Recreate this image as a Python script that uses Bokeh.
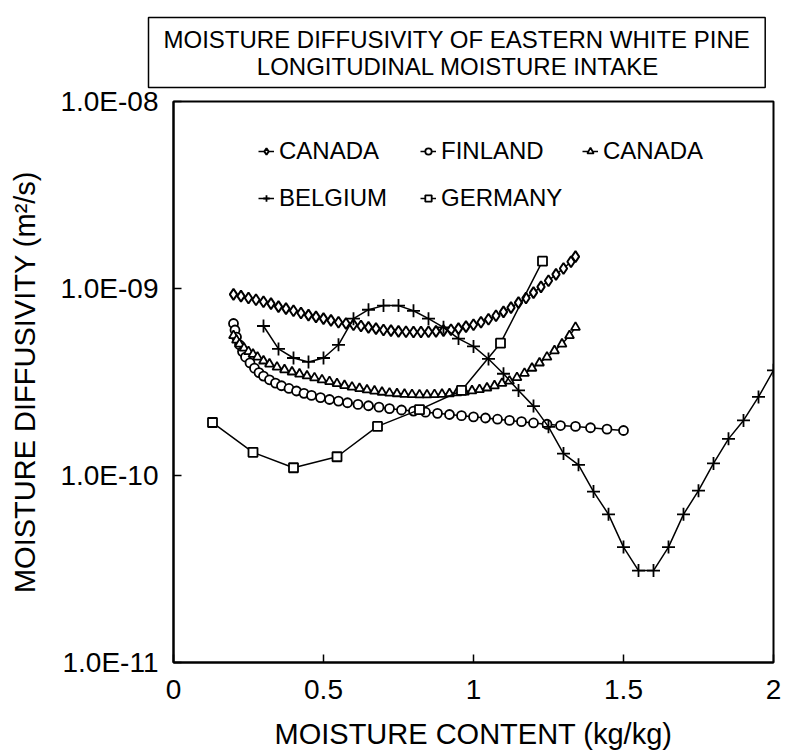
from bokeh.plotting import figure
from bokeh.models import (ColumnDataSource, Range1d, FixedTicker, CustomJSTickFormatter,
                          Legend, LegendItem)
from bokeh.embed import file_html
from bokeh.resources import INLINE

# ---------------- data ----------------
canada1_x = [0.200, 0.225, 0.250, 0.275, 0.300, 0.325, 0.350, 0.375, 0.400, 0.425,
             0.450, 0.475, 0.500, 0.525, 0.550, 0.575, 0.600, 0.625, 0.650, 0.675,
             0.700, 0.725, 0.750, 0.775, 0.800, 0.825, 0.850, 0.875, 0.900, 0.925,
             0.950, 0.975, 1.000, 1.025, 1.050, 1.075, 1.100, 1.125, 1.150, 1.175,
             1.200, 1.225, 1.250, 1.275, 1.300, 1.325, 1.340]
canada1_y = [9.3e-10, 9.1e-10, 8.9e-10, 8.7e-10, 8.5e-10, 8.3e-10, 8.0e-10, 7.8e-10, 7.6e-10, 7.4e-10,
             7.2e-10, 7.05e-10, 6.9e-10, 6.75e-10, 6.6e-10, 6.5e-10, 6.4e-10, 6.3e-10, 6.2e-10, 6.1e-10,
             6.0e-10, 5.95e-10, 5.9e-10, 5.87e-10, 5.85e-10, 5.85e-10, 5.87e-10, 5.9e-10, 5.95e-10, 6.02e-10,
             6.1e-10, 6.25e-10, 6.4e-10, 6.6e-10, 6.85e-10, 7.15e-10, 7.5e-10, 7.9e-10, 8.4e-10, 8.9e-10,
             9.5e-10, 1.02e-9, 1.10e-9, 1.19e-9, 1.28e-9, 1.39e-9, 1.48e-9]

finland_x = [0.200, 0.205, 0.210, 0.220, 0.230, 0.240, 0.255, 0.270, 0.285, 0.300,
             0.320, 0.340, 0.360, 0.385, 0.410, 0.435, 0.460, 0.490, 0.520, 0.550,
             0.580, 0.615, 0.650, 0.685, 0.720, 0.760, 0.800, 0.840, 0.880, 0.920,
             0.960, 1.000, 1.040, 1.080, 1.120, 1.160, 1.200, 1.245, 1.290, 1.340,
             1.390, 1.445, 1.500]
finland_y = [6.5e-10, 6.0e-10, 5.5e-10, 5.0e-10, 4.6e-10, 4.3e-10, 4.0e-10, 3.75e-10, 3.55e-10, 3.4e-10,
             3.25e-10, 3.12e-10, 3.02e-10, 2.92e-10, 2.83e-10, 2.75e-10, 2.68e-10, 2.61e-10, 2.55e-10, 2.5e-10,
             2.45e-10, 2.4e-10, 2.36e-10, 2.32e-10, 2.28e-10, 2.24e-10, 2.21e-10, 2.18e-10, 2.15e-10, 2.12e-10,
             2.09e-10, 2.06e-10, 2.03e-10, 2.0e-10, 1.97e-10, 1.94e-10, 1.91e-10, 1.88e-10, 1.85e-10, 1.83e-10,
             1.8e-10, 1.77e-10, 1.74e-10]

canada2_x = [0.200, 0.210, 0.220, 0.235, 0.250, 0.265, 0.280, 0.300, 0.320, 0.345,
             0.370, 0.395, 0.420, 0.445, 0.470, 0.495, 0.520, 0.545, 0.570, 0.595,
             0.620, 0.645, 0.670, 0.695, 0.720, 0.745, 0.770, 0.795, 0.820, 0.845,
             0.870, 0.895, 0.920, 0.945, 0.970, 0.995, 1.020, 1.045, 1.070, 1.095,
             1.120, 1.145, 1.170, 1.195, 1.220, 1.245, 1.270, 1.295, 1.320, 1.340]
canada2_y = [5.6e-10, 5.3e-10, 5.05e-10, 4.8e-10, 4.6e-10, 4.45e-10, 4.3e-10, 4.1e-10, 3.95e-10, 3.8e-10,
             3.68e-10, 3.58e-10, 3.49e-10, 3.41e-10, 3.33e-10, 3.25e-10, 3.18e-10, 3.1e-10, 3.03e-10, 2.97e-10,
             2.92e-10, 2.87e-10, 2.83e-10, 2.79e-10, 2.76e-10, 2.74e-10, 2.72e-10, 2.71e-10, 2.7e-10, 2.7e-10,
             2.71e-10, 2.72e-10, 2.74e-10, 2.77e-10, 2.8e-10, 2.84e-10, 2.88e-10, 2.94e-10, 3.02e-10, 3.11e-10,
             3.2e-10, 3.34e-10, 3.52e-10, 3.75e-10, 4.0e-10, 4.3e-10, 4.65e-10, 5.05e-10, 5.6e-10, 6.2e-10]

belgium_x = [0.30, 0.35, 0.40, 0.45, 0.50, 0.55, 0.60, 0.65, 0.70, 0.75,
             0.80, 0.85, 0.90, 0.95, 1.00, 1.05, 1.10, 1.15, 1.20, 1.25,
             1.30, 1.35, 1.40, 1.45, 1.50, 1.55, 1.60, 1.65, 1.70, 1.75,
             1.80, 1.85, 1.90, 1.95, 2.00]
belgium_y = [6.3e-10, 4.75e-10, 4.25e-10, 4.05e-10, 4.25e-10, 5.0e-10, 6.9e-10, 7.7e-10, 8.1e-10, 8.1e-10,
             7.6e-10, 6.9e-10, 6.2e-10, 5.4e-10, 4.9e-10, 4.2e-10, 3.5e-10, 2.85e-10, 2.35e-10, 1.82e-10,
             1.31e-10, 1.14e-10, 8.2e-11, 6.2e-11, 4.14e-11, 3.1e-11, 3.1e-11, 4.14e-11, 6.2e-11, 8.3e-11,
             1.16e-10, 1.57e-10, 1.97e-10, 2.63e-10, 3.65e-10]

germany_x = [0.13, 0.265, 0.40, 0.545, 0.68, 0.82, 0.96, 1.09, 1.23]
germany_y = [1.92e-10, 1.33e-10, 1.10e-10, 1.26e-10, 1.83e-10, 2.25e-10, 2.85e-10, 5.1e-10, 1.40e-9]

legend_labels = ["CANADA", "FINLAND", "CANADA", "BELGIUM", "GERMANY"]
x_ticks = [0, 0.5, 1, 1.5, 2]
y_ticks = [1e-11, 1e-10, 1e-9, 1e-8]

# second line is indented with no-break spaces so that it sits centred under the first
title_text = ("MOISTURE DIFFUSIVITY OF EASTERN WHITE PINE\n"
              + "\u00a0" * 14 + "LONGITUDINAL MOISTURE INTAKE")
x_title = "MOISTURE CONTENT (kg/kg)"
y_title = "MOISTURE DIFFUSIVITY (m\u00b2/s)"

FONT = "Liberation Sans"

# ---------------- figure ----------------
p = figure(frame_width=600, frame_height=561,
           x_range=Range1d(0, 2), y_range=Range1d(1e-11, 1e-8),
           y_axis_type="log", output_backend="svg", toolbar_location=None,
           min_border_left=173, min_border_right=10, min_border_top=101, min_border_bottom=88)

p.outline_line_color = "black"
p.outline_line_width = 2
p.xgrid.visible = False
p.ygrid.visible = False
p.background_fill_color = "white"
p.border_fill_color = "white"

for ax in (p.xaxis[0], p.yaxis[0]):
    ax.axis_line_color = "black"
    ax.axis_line_width = 2
    ax.major_tick_in = 8
    ax.major_tick_out = 0
    ax.major_tick_line_width = 1.5
    ax.minor_tick_line_color = None
    ax.major_label_text_font = FONT
    ax.major_label_text_font_size = "28px"
    ax.major_label_text_color = "black"
    ax.axis_label_text_font = FONT
    ax.axis_label_text_font_size = "29px"
    ax.axis_label_text_font_style = "normal"
    ax.axis_label_text_color = "black"

p.xaxis[0].ticker = FixedTicker(ticks=x_ticks)
p.xaxis[0].formatter = CustomJSTickFormatter(code="return String(tick);")
p.xaxis[0].axis_label = x_title
p.xaxis[0].major_label_standoff = 17
p.xaxis[0].axis_label_standoff = 16

p.yaxis[0].ticker = FixedTicker(ticks=y_ticks)
p.yaxis[0].formatter = CustomJSTickFormatter(code="""
const e = Math.round(Math.log10(tick));
const s = String(Math.abs(e)).padStart(2, "0");
return "1.0E" + (e < 0 ? "-" : "+") + s;
""")
p.yaxis[0].axis_label = y_title
p.yaxis[0].major_label_standoff = 15
p.yaxis[0].axis_label_standoff = 16

series = [
    (canada1_x, canada1_y, "diamond", 11, "white", 2.0),
    (finland_x, finland_y, "circle", 9, "white", 1.8),
    (canada2_x, canada2_y, "triangle", 9, "white", 1.8),
    (belgium_x, belgium_y, "cross", 13, None, 1.8),
    (germany_x, germany_y, "square", 9, "white", 1.8),
]

items = []
for (xs, ys, marker, size, fill, lw), label in zip(series, legend_labels):
    src = ColumnDataSource(dict(x=xs, y=ys))
    ln = p.line("x", "y", source=src, line_color="black", line_width=1.5)
    sc = p.scatter("x", "y", source=src, marker=marker, size=size,
                   line_color="black", line_width=lw,
                   fill_color=fill if fill else "black")
    items.append(LegendItem(label=label, renderers=[ln, sc]))

# legend fills column by column: order so that rows read
# CANADA FINLAND CANADA / BELGIUM GERMANY
legend_order = [0, 3, 1, 4, 2]
legend = Legend(items=[items[i] for i in legend_order], ncols=3, location=(85, 450),
                border_line_color=None, background_fill_alpha=0,
                label_text_font=FONT, label_text_font_size="24px", label_text_color="black",
                glyph_width=16, glyph_height=20, label_standoff=5,
                label_height=28, label_width=122, spacing=19, padding=0, margin=0)
p.add_layout(legend, "center")

# ---------------- title box ----------------
p.title.text = title_text
p.title.align = "left"
p.title.vertical_align = "top"
p.title.offset = -25
p.title.standoff = 24
p.title.text_font = FONT
p.title.text_font_size = "24px"
p.title.text_font_style = "normal"
p.title.text_color = "black"
p.title.background_fill_color = "white"
p.title.border_line_color = "black"
p.title.border_line_width = 1.5
p.title.padding = dict(left=15, right=15, top=8, bottom=8)

open("out.html", "w").write(file_html(p, INLINE))
